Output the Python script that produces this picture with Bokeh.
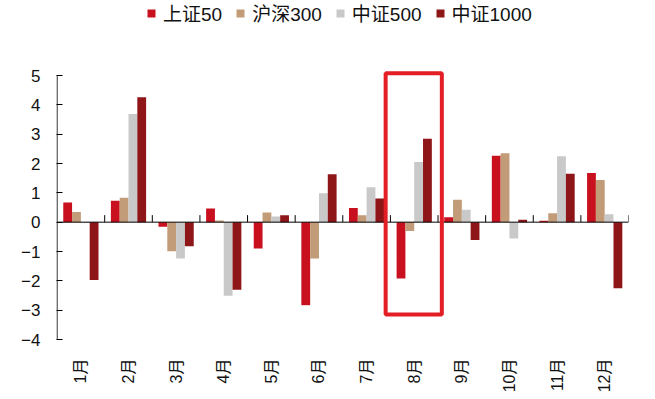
import math
from bokeh.plotting import figure
from bokeh.models import Range1d, FixedTicker, Legend, LegendItem, ColumnDataSource
from bokeh.core.properties import value
from bokeh.embed import file_html
from bokeh.resources import INLINE

months = ["1月", "2月", "3月", "4月", "5月", "6月", "7月", "8月", "9月", "10月", "11月", "12月"]
series_names = ["上证50", "沪深300", "中证500", "中证1000"]
sz50 = [0.67, 0.73, -0.16, 0.47, -0.90, -2.83, 0.48, -1.92, 0.17, 2.26, 0.05, 1.68]
hs300 = [0.35, 0.83, -0.99, 0.06, 0.33, -1.24, 0.24, -0.30, 0.76, 2.35, 0.30, 1.44]
zz500 = [-0.03, 3.69, -1.24, -2.51, 0.19, 0.99, 1.19, 2.05, 0.42, -0.56, 2.25, 0.27]
zz1000 = [-1.97, 4.26, -0.82, -2.30, 0.24, 1.63, 0.81, 2.84, -0.61, 0.08, 1.65, -2.25]
y_ticks = [-4, -3, -2, -1, 0, 1, 2, 3, 4, 5]
highlight_month = "8月"

colors = ["#C8101E", "#C29B78", "#C9C9C9", "#8E1518"]
FONT = "Liberation Sans, Arial, Noto Sans CJK SC, sans-serif"

# layout: axis 5 -> y=75px, -4 -> y=339px; frame covers the canvas height
W, H = 655, 399
axis_top_px, axis_bot_px = 75, 339
y_lo, y_hi = min(y_ticks), max(y_ticks)
px_per_unit = (axis_bot_px - axis_top_px) / (y_hi - y_lo)
y_end = y_hi + axis_top_px / px_per_unit
y_start = y_lo - (H - axis_bot_px) / px_per_unit
x_pad = 0.012

p = figure(width=W, height=H, output_backend="svg", toolbar_location=None,
           x_range=Range1d(-x_pad, len(months)), y_range=Range1d(y_start, y_end),
           min_border_left=56, min_border_right=27, min_border_top=0, min_border_bottom=0)
p.background_fill_color = "white"
p.border_fill_color = "white"
p.outline_line_color = None
p.grid.visible = False
p.xaxis.visible = False

bar_w = 0.185
offsets = [-1.5 * bar_w, -0.5 * bar_w, 0.5 * bar_w, 1.5 * bar_w]
all_series = [sz50, hs300, zz500, zz1000]
items = []
for name, vals, off, col in zip(series_names, all_series, offsets, colors):
    src = ColumnDataSource(dict(x=[i + 0.5 + off for i in range(len(months))], top=vals))
    r = p.vbar(x="x", top="top", bottom=0, width=bar_w, source=src,
               fill_color=col, line_color=None)
    items.append(LegendItem(label=name, renderers=[r]))

# y axis line (only between -4 and 5)
p.segment(x0=[0], x1=[0], y0=[y_lo], y1=[y_hi], line_color="black", line_width=1)
# zero axis line with category boundary ticks
p.segment(x0=[0], x1=[len(months)], y0=[0], y1=[0], line_color="black", line_width=1)
bounds = list(range(1, len(months) + 1))
p.segment(x0=bounds, x1=bounds, y0=[0] * len(bounds), y1=[0.24] * len(bounds),
          line_color="black", line_width=1)

# month labels, rotated, top-aligned below the axis
lab_src = ColumnDataSource(dict(x=[i + 0.5 for i in range(len(months))],
                                y=[y_lo - 19 / px_per_unit] * len(months), t=months))
p.text(x="x", y="y", text="t", source=lab_src, angle=math.pi / 2,
       text_align="right", text_baseline="middle",
       text_font=value(FONT), text_font_size="16px", text_color="#111111")

# highlight box
hi = months.index(highlight_month)
p.quad(left=[hi - 0.1], right=[hi + 1.08], top=[5.08], bottom=[-3.15],
       fill_color=None, line_color="#E31E24", line_width=4)

# y axis
yax = p.yaxis[0]
yax.ticker = FixedTicker(ticks=y_ticks)
yax.axis_line_color = None
yax.major_tick_in = 6
yax.major_tick_out = 0
yax.minor_tick_line_color = None
yax.major_label_text_font = FONT
yax.major_label_text_font_size = "17px"
yax.major_label_text_color = "#111111"
yax.major_label_standoff = 16

legend = Legend(items=items, orientation="horizontal", location=(90, H - 26),
                glyph_width=10, glyph_height=10, label_standoff=7, spacing=13,
                padding=0, margin=0, border_line_color=None, background_fill_alpha=0,
                label_text_font=FONT, label_text_font_size="19px", label_text_color="#111111")
p.add_layout(legend, "center")

open("out.html", "w").write(file_html(p, INLINE))
